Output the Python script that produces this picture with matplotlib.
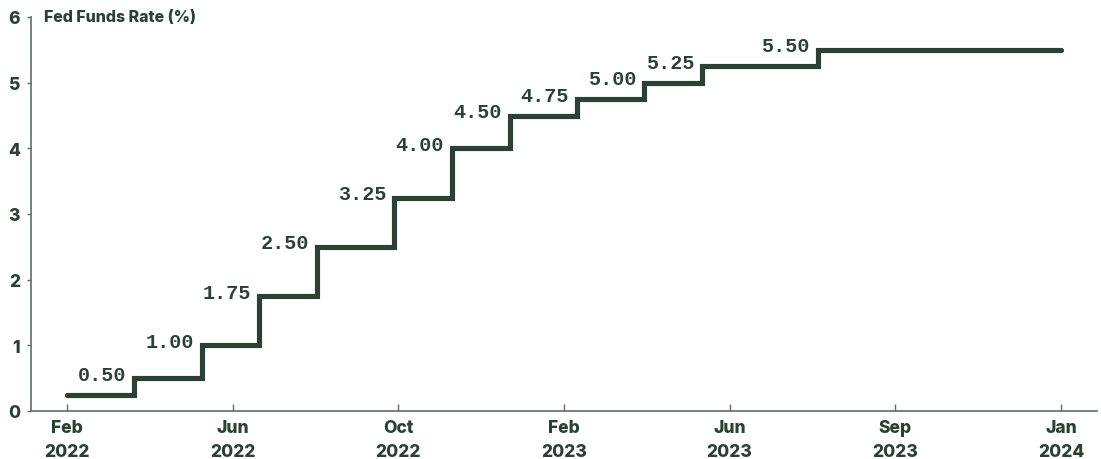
import numpy as np
import matplotlib.pyplot as plt
import matplotlib.dates as mdates

# FOMC decision dates and the target rate (upper bound) after each one
dates = ['2022-01-26', '2022-03-16', '2022-05-04', '2022-06-15', '2022-07-27',
         '2022-09-21', '2022-11-02', '2022-12-14', '2023-02-01', '2023-03-22',
         '2023-05-03', '2023-07-26', '2024-01-19']
rates = [0.25, 0.50, 1.00, 1.75, 2.50, 3.25, 4.00, 4.50, 4.75, 5.00, 5.25, 5.50, 5.50]
step_labels = ['', '0.50', '1.00', '1.75', '2.50', '3.25', '4.00', '4.50',
               '4.75', '5.00', '5.25', '5.50', '']
tick_labels = ['Feb\n2022', 'Jun\n2022', 'Oct\n2022', 'Feb\n2023',
               'Jun\n2023', 'Sep\n2023', 'Jan\n2024']
y_ticks = [0, 1, 2, 3, 4, 5, 6]

dark = '#2a4133'
axis_col = '#5c7066'
sans = ['Inter', 'DejaVu Sans']
mono = ['Liberation Mono', 'DejaVu Sans Mono']

x = mdates.datestr2num(dates)

dpi = 100
fig = plt.figure(figsize=(1101/dpi, 460/dpi), dpi=dpi)
ax = fig.add_axes([31/1101, 48/460, (1097-31)/1101, (412-18)/460])

ax.plot(x, rates, drawstyle='steps-post', color=dark, lw=3.7,
        solid_capstyle='round', solid_joinstyle='miter')

for xi, ri, lab in zip(x, rates, step_labels):
    if lab:
        ax.annotate(lab, (xi, ri), xytext=(-8, 4), textcoords='offset pixels',
                    ha='right', va='center', fontsize=14.5, fontweight='bold',
                    family=mono, color=dark)

span = x[-1] - x[0]
ax.set_xlim(x[0] - span * 36/994, x[-1] + span * 36/994)
ax.set_ylim(0, 6)

ax.set_xticks(np.linspace(x[0], x[-1], len(tick_labels)))
ax.set_xticklabels(tick_labels, linespacing=1.5)
ax.set_yticks(y_ticks)

for s in ['top', 'right']:
    ax.spines[s].set_visible(False)
for s in ['left', 'bottom']:
    ax.spines[s].set_color(axis_col)
    ax.spines[s].set_linewidth(1.2)

ax.tick_params(axis='x', direction='in', length=5, width=1, color=axis_col, pad=6)
ax.tick_params(axis='y', direction='out', length=3, width=1, color=axis_col, pad=5)
for t in ax.get_xticklabels() + ax.get_yticklabels():
    t.set_family(sans)
    t.set_fontweight('heavy')
    t.set_fontsize(12.5)
    t.set_color(dark)

ax.text(13/1066, 6, 'Fed Funds Rate (%)', transform=ax.get_yaxis_transform(),
        ha='left', va='center', fontsize=11.5, fontweight='heavy', family=sans,
        color=dark, clip_on=False)

plt.savefig('out.png', dpi=dpi)
